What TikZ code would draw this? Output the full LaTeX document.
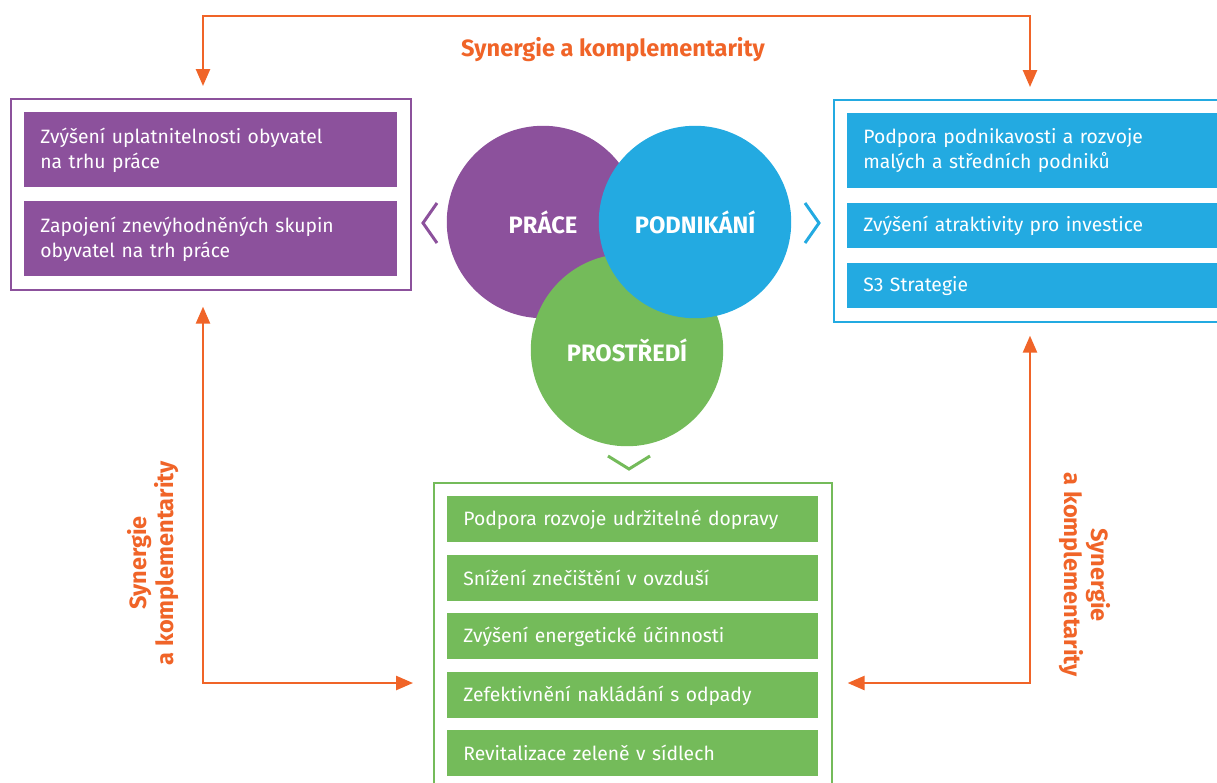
\documentclass[tikz,border=0pt]{standalone}
\usepackage{fontspec}
\setmainfont{Fira Sans}
\usetikzlibrary{shapes.geometric, arrows.meta, fit}
\definecolor{prace}{RGB}{140,81,156}
\definecolor{podnik}{RGB}{35,170,225}
\definecolor{prostr}{RGB}{116,187,90}
\definecolor{synorange}{RGB}{240,100,40}
\tikzstyle{item} = [rectangle, anchor=north west, inner xsep=0.32cm, inner ysep=0pt, align=left, text=white, font=\fontsize{11}{14.2}\selectfont]
\tikzstyle{pracebox} = [item, fill=prace, text width=6.82cm, minimum height=1.5cm]
\tikzstyle{podnikbox} = [item, fill=podnik, text width=7.22cm, minimum height=0.9cm]
\tikzstyle{prostrbox} = [item, fill=prostr, text width=6.78cm, minimum height=0.92cm]
\tikzstyle{frame} = [rectangle, line width=1.1pt, inner sep=0.26cm]
\tikzstyle{ring} = [circle, minimum size=3.85cm, text=white, font=\fontsize{13.5}{15}\selectfont\bfseries]
\tikzstyle{synarrow} = [draw=synorange, line width=1.4pt, {Triangle[length=0.34cm,width=0.28cm]}-{Triangle[length=0.34cm,width=0.28cm]}]
\tikzstyle{synlabel} = [text=synorange, font=\fontsize{13.4}{15.5}\selectfont\bfseries, align=center]
\tikzstyle{chevron} = [line width=1.7pt]

\begin{document}
\begin{tikzpicture}[x=0.02cm, y=-0.02cm]
\useasboundingbox (0,0) rectangle (1217,782);

\node (p1) [pracebox] at (24,112) {Zvýšení uplatnitelnosti obyvatel\\na trhu práce};
\node (p2) [pracebox] at (24,201) {Zapojení znevýhodněných skupin\\obyvatel na trh práce};
\node (pframe) [frame, draw=prace, fit=(p1)(p2)] {};

\node (b1) [podnikbox, minimum height=1.5cm] at (847,113) {Podpora podnikavosti a rozvoje\\malých a středních podniků};
\node (b2) [podnikbox] at (847,203) {Zvýšení atraktivity pro investice};
\node (b3) [podnikbox] at (847,263) {S3 Strategie};
\node (bframe) [frame, draw=podnik, fit=(b1)(b2)(b3)] {};

\node (g1) [prostrbox] at (447,496) {Podpora rozvoje udržitelné dopravy};
\node (g2) [prostrbox] at (447,555) {Snížení znečištění v ovzduší};
\node (g3) [prostrbox] at (447,613) {Zvýšení energetické účinnosti};
\node (g4) [prostrbox] at (447,672) {Zefektivnění nakládání s odpady};
\node (g5) [prostrbox] at (447,730) {Revitalizace zeleně v sídlech};
\node (gframe) [frame, draw=prostr, fit=(g1)(g5)] {};

\node (prace) [ring, fill=prace] at (543,222) {PRÁCE};
\node (prostredi) [ring, fill=prostr] at (627,350) {PROSTŘEDÍ};
\node (podnikani) [ring, fill=podnik] at (695,222) {PODNIKÁNÍ};

\draw [chevron, prace] (437,203) -- (423,223) -- (437,243);
\draw [chevron, podnik] (805,203) -- (819,223) -- (805,243);
\draw [chevron, prostr] (608,456) -- (629,469) -- (650,456);

\coordinate (topL) at (203,16);
\coordinate (topR) at (1030,16);
\coordinate (botL) at (203,683);
\coordinate (botR) at (1030,683);

\draw [synarrow, shorten <=0.24cm, shorten >=0.24cm] (pframe.north -| topL) |- (topR) -- (bframe.north -| topR);
\draw [synarrow, shorten <=0.32cm, shorten >=0.4cm] (pframe.south -| botL) |- (gframe.west |- botL);
\draw [synarrow, shorten <=0.26cm, shorten >=0.3cm] (bframe.south -| botR) |- (gframe.east |- botR);

\node (syntop) [synlabel] at (613,50) {Synergie a komplementarity};
\node (synleft) [synlabel, rotate=90] at (153,563) {Synergie\\a komplementarity};
\node (synright) [synlabel, rotate=-90] at (1085,575) {Synergie\\a komplementarity};

\end{tikzpicture}
\end{document}
